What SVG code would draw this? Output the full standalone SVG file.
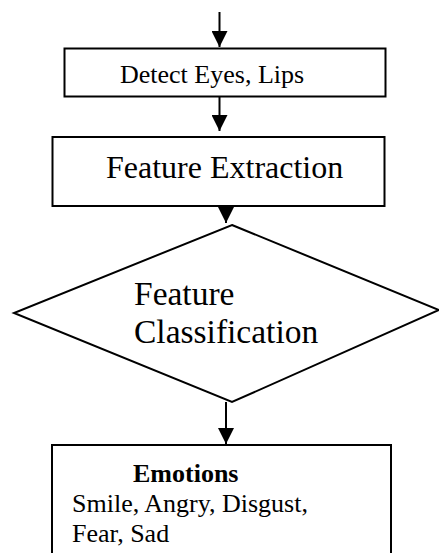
<svg xmlns="http://www.w3.org/2000/svg" width="439" height="553" viewBox="0 0 439 553">
<style>
.box{fill:#fff;stroke:#000;stroke-width:2}
.edge{stroke:#000;stroke-width:2;fill:none}
text{font-family:"Liberation Serif","Times New Roman",serif;fill:#000}
</style>
<defs>
<marker id="ah" markerUnits="userSpaceOnUse" markerWidth="16" markerHeight="16" viewBox="0 0 15 15" refX="15" refY="7.5" orient="auto">
<path d="M0,0 L15,7.5 L0,15 Z" fill="#000"/>
</marker>
</defs>
<rect width="439" height="553" fill="#fff"/>
<g id="node-detect">
<rect class="box" x="64.5" y="48.5" width="321" height="48"/>
<text x="120" y="83" font-size="26">Detect Eyes, Lips</text>
</g>
<g id="node-extraction">
<rect class="box" x="52.5" y="137" width="332" height="69"/>
<text x="106" y="178" font-size="32">Feature Extraction</text>
</g>
<g id="node-classification">
<polygon class="box" points="232,225 439,310 232,402 14,313"/>
<text x="134" y="305" font-size="33.5">Feature</text>
<text x="134" y="343" font-size="33.5">Classification</text>
</g>
<g id="node-emotions">
<rect class="box" x="52" y="445" width="339" height="120"/>
<text x="133" y="482" font-size="26" font-weight="bold">Emotions</text>
<text x="72" y="512" font-size="26">Smile, Angry, Disgust,</text>
<text x="72" y="542" font-size="26">Fear, Sad</text>
</g>
<g id="connectors">
<line class="edge" x1="219.5" y1="12" x2="219.5" y2="47" marker-end="url(#ah)"/>
<line class="edge" x1="219.5" y1="97" x2="219.5" y2="131" marker-end="url(#ah)"/>
<line class="edge" x1="226" y1="206" x2="226" y2="223" marker-end="url(#ah)"/>
<line class="edge" x1="226" y1="402" x2="226" y2="444" marker-end="url(#ah)"/>
</g>
</svg>
